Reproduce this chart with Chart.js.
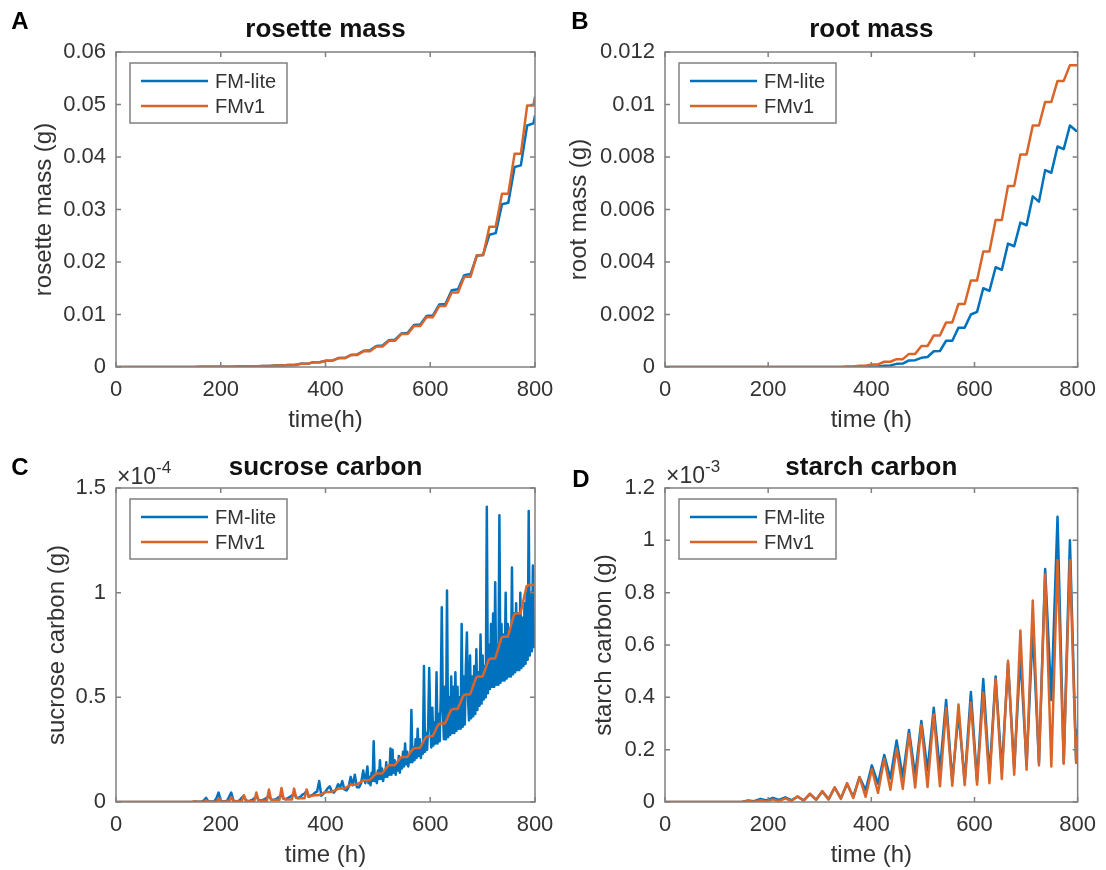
<!DOCTYPE html>
<html lang="en">
<head>
    <meta charset="UTF-8">
    <meta name="viewport" content="width=device-width, initial-scale=1.0">
    <title>FM-lite vs FMv1</title>
    <script src="https://cdn.jsdelivr.net/npm/chart.js"></script>
    <style>
        html, body {
            margin: 0;
            padding: 0;
            background: #fff;
            overflow: hidden;
        }
        .panel {
            position: absolute;
            height: 435px;
        }
        #boxA { left: 0; top: 0; }
        #boxB { left: 553px; top: 0; }
        #boxC { left: 0; top: 435px; }
        #boxD { left: 553px; top: 435px; }
    </style>
</head>
<body>
    <div class="panel" id="boxA"><canvas id="chartA" width="575" height="435"></canvas></div>
    <div class="panel" id="boxB"><canvas id="chartB" width="553" height="435"></canvas></div>
    <div class="panel" id="boxC"><canvas id="chartC" width="575" height="435"></canvas></div>
    <div class="panel" id="boxD"><canvas id="chartD" width="553" height="435"></canvas></div>

    <script>
        // time grid (h) at dawn (24k+5) and dusk (24k+17)
        const dayHours = [0,
            5, 17, 29, 41, 53, 65, 77, 89, 101, 113, 125, 137, 149,
            161, 173, 185, 197, 209, 221, 233, 245, 257, 269, 281, 293,
            305, 317, 329, 341, 353, 365, 377, 389, 401, 413, 425, 437,
            449, 461, 473, 485, 497, 509, 521, 533, 545, 557, 569, 581,
            593, 605, 617, 629, 641, 653, 665, 677, 689, 701, 713, 725,
            737, 749, 761, 773, 785, 797, 800];

        // rosette mass (g)
        const rosetteLite = [0.00001,
            0.00001, 0.00001, 0.00001, 0.00001, 0.00001, 0.00001, 0.00001, 0.00001, 0.00001, 0.00002, 0.00002, 0.00002, 0.00002,
            0.00003, 0.00003, 0.00003, 0.00003, 0.00005, 0.00005, 0.00008, 0.00008, 0.00012, 0.00012, 0.00018, 0.00018,
            0.00027, 0.00027, 0.0004, 0.0004, 0.0006, 0.0006, 0.0009, 0.0009, 0.0012, 0.0012, 0.0017, 0.0017,
            0.0023, 0.0024, 0.0031, 0.0032, 0.004, 0.0041, 0.0051, 0.0052, 0.0064, 0.0065, 0.008, 0.0081,
            0.0097, 0.0098, 0.0119, 0.012, 0.0146, 0.0148, 0.0175, 0.0177, 0.0212, 0.0214, 0.0252, 0.0255,
            0.031, 0.0313, 0.0381, 0.0384, 0.046, 0.0464, 0.0479];
        const rosetteV1 = [0.00001,
            0.00001, 0.00001, 0.00001, 0.00001, 0.00001, 0.00001, 0.00001, 0.00001, 0.00001, 0.00002, 0.00002, 0.00002, 0.00002,
            0.00003, 0.00003, 0.00003, 0.00003, 0.00005, 0.00005, 0.00008, 0.00008, 0.00012, 0.00012, 0.00018, 0.00018,
            0.00027, 0.00027, 0.0004, 0.0004, 0.0006, 0.0006, 0.0009, 0.0009, 0.0012, 0.0012, 0.0017, 0.0017,
            0.0023, 0.0023, 0.003, 0.003, 0.0039, 0.0039, 0.005, 0.005, 0.0063, 0.0063, 0.0078, 0.0078,
            0.0095, 0.0095, 0.0116, 0.0116, 0.0142, 0.0142, 0.0172, 0.0172, 0.0213, 0.0213, 0.0267, 0.0267,
            0.033, 0.033, 0.0406, 0.0406, 0.0498, 0.0498, 0.0515];

        // root mass (g)
        const rootLite = [0,
            0, 0, 0, 0, 0, 0, 0, 0, 0, 0, 0, 0, 0,
            0, 0, 0, 0, 0, 0, 0, 0, 0, 0, 0, 0,
            0, 0, 0, 0, 0, 0, 0, 0, 0.00001, 0.00002, 0.00005, 0.00006,
            0.00012, 0.00013, 0.00025, 0.00026, 0.00035, 0.00038, 0.0006, 0.00061, 0.001, 0.001, 0.0015, 0.0015,
            0.002, 0.0021, 0.003, 0.0029, 0.0038, 0.0037, 0.0047, 0.0046, 0.0055, 0.0054, 0.0065, 0.0063,
            0.0075, 0.0074, 0.0084, 0.0083, 0.0092, 0.009, 0.009];
        const rootV1 = [0,
            0, 0, 0, 0, 0, 0, 0, 0, 0, 0, 0, 0, 0,
            0, 0, 0, 0, 0, 0, 0, 0, 0, 0, 0, 0,
            0, 0, 0, 0, 0.00002, 0.00002, 0.00005, 0.00005, 0.0001, 0.0001, 0.0002, 0.0002,
            0.0003, 0.0003, 0.0005, 0.0005, 0.0008, 0.0008, 0.0012, 0.0012, 0.0017, 0.0017, 0.0024, 0.0024,
            0.0033, 0.0033, 0.0044, 0.0044, 0.0056, 0.0056, 0.0069, 0.0069, 0.0081, 0.0081, 0.0092, 0.0092,
            0.0101, 0.0101, 0.0109, 0.0109, 0.0115, 0.0115, 0.0115];

        // starch carbon, in units of 1e-3 g
        const starchLite = [0,
            0, 0, 0, 0, 0, 0, 0, 0, 0, 0, 0, 0, 0,
            0.006, 0.003, 0.012, 0.006, 0.016, 0.008, 0.018, 0.007, 0.02, 0.006, 0.03, 0.009,
            0.04, 0.011, 0.055, 0.014, 0.07, 0.02, 0.095, 0.045, 0.14, 0.07, 0.18, 0.09,
            0.235, 0.095, 0.275, 0.1, 0.31, 0.12, 0.36, 0.12, 0.39, 0.08, 0.34, 0.08,
            0.42, 0.08, 0.47, 0.1, 0.48, 0.12, 0.53, 0.13, 0.56, 0.14, 0.66, 0.15,
            0.89, 0.39, 1.09, 0.15, 1.0, 0.16, 0.28];
        const starchV1 = [0,
            0, 0, 0, 0, 0, 0, 0, 0, 0, 0, 0, 0, 0,
            0.004, 0.001, 0.007, 0.002, 0.01, 0.003, 0.014, 0.004, 0.022, 0.005, 0.032, 0.008,
            0.042, 0.01, 0.056, 0.012, 0.072, 0.015, 0.095, 0.02, 0.125, 0.035, 0.165, 0.047,
            0.205, 0.05, 0.26, 0.055, 0.295, 0.057, 0.335, 0.06, 0.36, 0.062, 0.373, 0.064,
            0.38, 0.066, 0.418, 0.072, 0.469, 0.088, 0.54, 0.104, 0.655, 0.123, 0.77, 0.14,
            0.869, 0.136, 0.924, 0.146, 0.924, 0.149, 0.25];

        // sucrose carbon, in units of 1e-4 g
        // FMv1 on a 4 h grid (one row per day)
        const sucroseV1Hours = [0, 140,
            144, 148, 152, 156, 160, 164,
            168, 172, 176, 180, 184, 188,
            192, 196, 200, 204, 208, 212,
            216, 220, 224, 228, 232, 236,
            240, 244, 248, 252, 256, 260,
            264, 268, 272, 276, 280, 284,
            288, 292, 296, 300, 304, 308,
            312, 316, 320, 324, 328, 332,
            336, 340, 344, 348, 352, 356,
            360, 364, 368, 372, 376, 380,
            384, 388, 392, 396, 400, 404,
            408, 412, 416, 420, 424, 428,
            432, 436, 440, 444, 448, 452,
            456, 460, 464, 468, 472, 476,
            480, 484, 488, 492, 496, 500,
            504, 508, 512, 516, 520, 524,
            528, 532, 536, 540, 544, 548,
            552, 556, 560, 564, 568, 572,
            576, 580, 584, 588, 592, 596,
            600, 604, 608, 612, 616, 620,
            624, 628, 632, 636, 640, 644,
            648, 652, 656, 660, 664, 668,
            672, 676, 680, 684, 688, 692,
            696, 700, 704, 708, 712, 716,
            720, 724, 728, 732, 736, 740,
            744, 748, 752, 756, 760, 764,
            768, 772, 776, 780, 784, 788,
            792, 796, 800];
        const sucroseV1 = [0, 0,
            0, 0.003, 0.001, 0.001, 0.001, 0.001,
            0.001, 0.008, 0.002, 0.001, 0.001, 0.001,
            0.001, 0.016, 0.003, 0.002, 0.002, 0.002,
            0.002, 0.024, 0.004, 0.003, 0.003, 0.003,
            0.003, 0.032, 0.006, 0.004, 0.004, 0.004,
            0.004, 0.045, 0.008, 0.006, 0.006, 0.006,
            0.006, 0.06, 0.012, 0.009, 0.009, 0.009,
            0.009, 0.067, 0.016, 0.012, 0.012, 0.012,
            0.012, 0.064, 0.02, 0.017, 0.018, 0.018,
            0.018, 0.06, 0.026, 0.028, 0.031, 0.032,
            0.032, 0.033, 0.037, 0.042, 0.047, 0.048,
            0.048, 0.049, 0.053, 0.058, 0.063, 0.064,
            0.064, 0.064, 0.07, 0.076, 0.082, 0.083,
            0.083, 0.083, 0.09, 0.097, 0.103, 0.104,
            0.104, 0.104, 0.114, 0.125, 0.134, 0.136,
            0.136, 0.136, 0.148, 0.162, 0.174, 0.176,
            0.176, 0.176, 0.188, 0.2, 0.213, 0.215,
            0.215, 0.215, 0.228, 0.243, 0.256, 0.258,
            0.258, 0.258, 0.275, 0.295, 0.311, 0.314,
            0.314, 0.314, 0.332, 0.354, 0.372, 0.375,
            0.375, 0.375, 0.396, 0.42, 0.44, 0.444,
            0.444, 0.444, 0.465, 0.49, 0.51, 0.514,
            0.514, 0.514, 0.54, 0.57, 0.596, 0.6,
            0.6, 0.6, 0.626, 0.655, 0.681, 0.686,
            0.686, 0.686, 0.717, 0.752, 0.785, 0.79,
            0.79, 0.79, 0.823, 0.86, 0.895, 0.9,
            0.9, 0.9, 0.941, 0.988, 1.03, 1.037,
            1.037, 1.037, 1.042];

        // FM-lite: 4 h grid up to 476 h, then 2 h grid (one row per day)
        const sucroseLiteHours = [0, 140,
            144, 148, 152, 156, 160, 164,
            168, 172, 176, 180, 184, 188,
            192, 196, 200, 204, 208, 212,
            216, 220, 224, 228, 232, 236,
            240, 244, 248, 252, 256, 260,
            264, 268, 272, 276, 280, 284,
            288, 292, 296, 300, 304, 308,
            312, 316, 320, 324, 328, 332,
            336, 340, 344, 348, 352, 356,
            360, 364, 368, 372, 376, 380,
            384, 388, 392, 396, 400, 404,
            408, 412, 416, 420, 424, 428,
            432, 436, 440, 444, 448, 452,
            456, 460, 464, 468, 472, 476,
            480, 482, 484, 486, 488, 490, 492, 494, 496, 498, 500, 502,
            504, 506, 508, 510, 512, 514, 516, 518, 520, 522, 524, 526,
            528, 530, 532, 534, 536, 538, 540, 542, 544, 546, 548, 550,
            552, 554, 556, 558, 560, 562, 564, 566, 568, 570, 572, 574,
            576, 578, 580, 582, 584, 586, 588, 590, 592, 594, 596, 598,
            600, 602, 604, 606, 608, 610, 612, 614, 616, 618, 620, 622,
            624, 626, 628, 630, 632, 634, 636, 638, 640, 642, 644, 646,
            648, 650, 652, 654, 656, 658, 660, 662, 664, 666, 668, 670,
            672, 674, 676, 678, 680, 682, 684, 686, 688, 690, 692, 694,
            696, 698, 700, 702, 704, 706, 708, 710, 712, 714, 716, 718,
            720, 722, 724, 726, 728, 730, 732, 734, 736, 738, 740, 742,
            744, 746, 748, 750, 752, 754, 756, 758, 760, 762, 764, 766,
            768, 770, 772, 774, 776, 778, 780, 782, 784, 786, 788, 790,
            792, 794, 796, 798, 800];
        const sucroseLite = [0, 0,
            0, 0, 0.002, 0.001, 0.001, 0.002,
            0.008, 0.02, 0.004, 0.002, 0.002, 0.004,
            0.02, 0.045, 0.006, 0.003, 0.003, 0.006,
            0.025, 0.045, 0.008, 0.004, 0.004, 0.008,
            0.02, 0.03, 0.008, 0.005, 0.006, 0.01,
            0.018, 0.025, 0.01, 0.008, 0.01, 0.014,
            0.02, 0.03, 0.012, 0.01, 0.012, 0.018,
            0.025, 0.035, 0.015, 0.014, 0.018, 0.025,
            0.03, 0.045, 0.02, 0.02, 0.025, 0.035,
            0.04, 0.055, 0.025, 0.03, 0.035, 0.045,
            0.05, 0.1, 0.03, 0.04, 0.05, 0.065,
            0.075, 0.05, 0.045, 0.06, 0.085, 0.07,
            0.1, 0.06, 0.055, 0.07, 0.12, 0.08,
            0.13, 0.07, 0.07, 0.09, 0.15, 0.09,
            0.17, 0.09, 0.12, 0.08, 0.14, 0.1, 0.29, 0.1, 0.13, 0.09, 0.15, 0.11,
            0.2, 0.11, 0.16, 0.1, 0.14, 0.12, 0.19, 0.12, 0.17, 0.13, 0.255, 0.13,
            0.25, 0.14, 0.2, 0.13, 0.18, 0.15, 0.22, 0.14, 0.21, 0.16, 0.24, 0.17,
            0.28, 0.18, 0.24, 0.17, 0.22, 0.19, 0.44, 0.19, 0.26, 0.2, 0.3, 0.21,
            0.35, 0.22, 0.3, 0.21, 0.27, 0.23, 0.65, 0.24, 0.33, 0.25, 0.36, 0.64,
            0.4, 0.26, 0.45, 0.27, 0.38, 0.28, 0.62, 0.28, 0.42, 0.29, 0.5, 0.93,
            0.45, 0.3, 0.55, 0.3, 1.01, 0.31, 0.5, 0.32, 0.6, 0.33, 0.55, 0.33,
            0.62, 0.34, 0.55, 0.35, 0.5, 0.35, 0.85, 0.36, 0.6, 0.37, 0.65, 0.81,
            0.5, 0.39, 0.7, 0.4, 0.6, 0.41, 0.65, 0.42, 0.73, 0.44, 0.62, 0.46,
            0.8, 0.47, 0.7, 0.49, 0.65, 0.5, 1.41, 0.52, 0.75, 0.54, 0.85, 0.55,
            0.9, 0.55, 1.05, 0.56, 0.75, 0.56, 1.37, 0.57, 0.85, 0.58, 0.8, 0.58,
            1.0, 0.59, 0.85, 0.6, 0.8, 0.6, 1.12, 0.61, 0.9, 0.62, 0.95, 0.63,
            0.9, 0.63, 1.0, 0.64, 0.88, 0.65, 0.95, 0.66, 1.0, 0.68, 1.39, 0.7,
            1.0, 0.72, 1.13, 0.74, 0.77];

        const seriesNames = ['FM-lite', 'FMv1'];
        const timeTicks = [0, 200, 400, 600, 800];
        const rosetteTicks = [0, 0.01, 0.02, 0.03, 0.04, 0.05, 0.06];
        const rootTicks = [0, 0.002, 0.004, 0.006, 0.008, 0.01, 0.012];
        const sucroseTicks = [0, 0.5, 1, 1.5];
        const starchTicks = [0, 0.2, 0.4, 0.6, 0.8, 1, 1.2];

        const COLOR_LITE = '#0072BD';
        const COLOR_V1 = '#D9652B';
        const FONT = "'Liberation Sans', Arial, Helvetica, sans-serif";
        const TEXT = '#333333';
        const FRAME = '#808080';

        function pairs(xs, ys) {
            return xs.map((x, i) => ({ x: x, y: ys[i] }));
        }

        // box, inward ticks, legend, panel letter, title, exponent
        const matlabAxes = {
            id: 'matlabAxes',
            afterDraw(chart, args, opts) {
                const ctx = chart.ctx;
                const a = chart.chartArea;
                const sx = chart.scales.x;
                const sy = chart.scales.y;
                ctx.save();

                ctx.strokeStyle = FRAME;
                ctx.lineWidth = 1.5;
                ctx.beginPath();
                sx.ticks.forEach(t => {
                    const px = sx.getPixelForValue(t.value);
                    ctx.moveTo(px, a.bottom); ctx.lineTo(px, a.bottom - 5);
                    ctx.moveTo(px, a.top); ctx.lineTo(px, a.top + 5);
                });
                sy.ticks.forEach(t => {
                    const py = sy.getPixelForValue(t.value);
                    ctx.moveTo(a.left, py); ctx.lineTo(a.left + 5, py);
                    ctx.moveTo(a.right, py); ctx.lineTo(a.right - 5, py);
                });
                ctx.stroke();
                ctx.strokeRect(a.left, a.top, a.right - a.left, a.bottom - a.top);

                // legend
                const lx = a.left + 14, ly = a.top + 11;
                ctx.fillStyle = '#fff';
                ctx.fillRect(lx, ly, 157, 60);
                ctx.strokeRect(lx, ly, 157, 60);
                const colors = [COLOR_LITE, COLOR_V1];
                ctx.font = '20px ' + FONT;
                ctx.textAlign = 'left';
                ctx.textBaseline = 'middle';
                seriesNames.forEach((name, i) => {
                    const ry = ly + 18 + i * 25;
                    ctx.strokeStyle = colors[i];
                    ctx.lineWidth = 2.5;
                    ctx.beginPath();
                    ctx.moveTo(lx + 11, ry);
                    ctx.lineTo(lx + 78, ry);
                    ctx.stroke();
                    ctx.fillStyle = TEXT;
                    ctx.fillText(name, lx + 85, ry + 1);
                });

                // title and panel letter
                ctx.fillStyle = '#111';
                ctx.textAlign = 'center';
                ctx.font = 'bold 26px ' + FONT;
                ctx.fillText(opts.title, (a.left + a.right) / 2, opts.titleY);
                ctx.font = 'bold 24px ' + FONT;
                ctx.fillStyle = '#000';
                ctx.fillText(opts.letter, opts.letterX, opts.letterY);

                // exponent above the y axis
                if (opts.exponent) {
                    ctx.fillStyle = TEXT;
                    ctx.textAlign = 'left';
                    ctx.textBaseline = 'alphabetic';
                    ctx.font = '23px ' + FONT;
                    const ex = a.left + 1, ey = opts.expY;
                    ctx.fillText('\u00d710', ex, ey);
                    const w = ctx.measureText('\u00d710').width;
                    ctx.font = '17px ' + FONT;
                    ctx.fillText(opts.exponent, ex + w, ey - 11);
                }
                ctx.restore();
            }
        };

        function makePanel(id, p) {
            new Chart(document.getElementById(id), {
                type: 'line',
                data: {
                    datasets: [
                        { label: seriesNames[1], data: pairs(p.v1Hours, p.v1), borderColor: COLOR_V1, order: 0 },
                        { label: seriesNames[0], data: pairs(p.liteHours, p.lite), borderColor: COLOR_LITE, order: 1 }
                    ]
                },
                options: {
                    responsive: false,
                    animation: false,
                    events: [],
                    layout: { padding: { top: p.top, right: p.right, left: 0, bottom: 0 } },
                    elements: {
                        point: { radius: 0 },
                        line: { borderWidth: 2.5, tension: 0, borderJoinStyle: 'round', fill: false }
                    },
                    scales: {
                        x: {
                            type: 'linear',
                            min: 0,
                            max: 800,
                            afterBuildTicks: s => { s.ticks = timeTicks.map(v => ({ value: v })); },
                            ticks: { color: TEXT, font: { family: FONT, size: 22 }, padding: 10, maxRotation: 0, autoSkip: false,
                                     callback: v => String(v) },
                            grid: { display: false, drawTicks: false },
                            border: { display: false },
                            title: { display: true, text: p.xTitle, color: TEXT, font: { family: FONT, size: 24 },
                                     padding: { top: 0, bottom: 0 } },
                            afterFit: s => { s.height = 68; }
                        },
                        y: {
                            type: 'linear',
                            min: p.yTicks[0],
                            max: p.yTicks[p.yTicks.length - 1],
                            afterBuildTicks: s => { s.ticks = p.yTicks.map(v => ({ value: v })); },
                            ticks: { color: TEXT, font: { family: FONT, size: 22 }, padding: 10, autoSkip: false,
                                     callback: v => String(v) },
                            grid: { display: false, drawTicks: false },
                            border: { display: false },
                            title: { display: true, text: p.yTitle, color: TEXT, font: { family: FONT, size: 24 },
                                     padding: { top: p.yTitlePad, bottom: 0 } },
                            afterFit: s => { s.width = p.left; }
                        }
                    },
                    plugins: {
                        legend: { display: false },
                        tooltip: { enabled: false },
                        matlabAxes: p.deco
                    }
                },
                plugins: [matlabAxes]
            });
        }

        makePanel('chartA', {
            liteHours: dayHours, lite: rosetteLite, v1Hours: dayHours, v1: rosetteV1, yTicks: rosetteTicks,
            xTitle: 'time(h)', yTitle: 'rosette mass (g)',
            top: 52, right: 40, left: 116, yTitlePad: 30,
            deco: { letter: 'A', letterX: 20, letterY: 22, title: 'rosette mass', titleY: 30 }
        });
        makePanel('chartB', {
            liteHours: dayHours, lite: rootLite, v1Hours: dayHours, v1: rootV1, yTicks: rootTicks,
            xTitle: 'time (h)', yTitle: 'root mass (g)',
            top: 52, right: 23, left: 112, yTitlePad: 12,
            deco: { letter: 'B', letterX: 27, letterY: 22, title: 'root mass', titleY: 30 }
        });
        makePanel('chartC', {
            liteHours: sucroseLiteHours, lite: sucroseLite, v1Hours: sucroseV1Hours, v1: sucroseV1, yTicks: sucroseTicks,
            xTitle: 'time (h)', yTitle: 'sucrose carbon (g)',
            top: 53, right: 40, left: 116, yTitlePad: 43,
            deco: { letter: 'C', letterX: 20, letterY: 33, title: 'sucrose carbon', titleY: 33, exponent: '-4', expY: 49 }
        });
        makePanel('chartD', {
            liteHours: dayHours, lite: starchLite, v1Hours: dayHours, v1: starchV1, yTicks: starchTicks,
            xTitle: 'time (h)', yTitle: 'starch carbon (g)',
            top: 53, right: 23, left: 112, yTitlePad: 37,
            deco: { letter: 'D', letterX: 28, letterY: 45, title: 'starch carbon', titleY: 33, exponent: '-3', expY: 48 }
        });
    </script>
</body>
</html>
